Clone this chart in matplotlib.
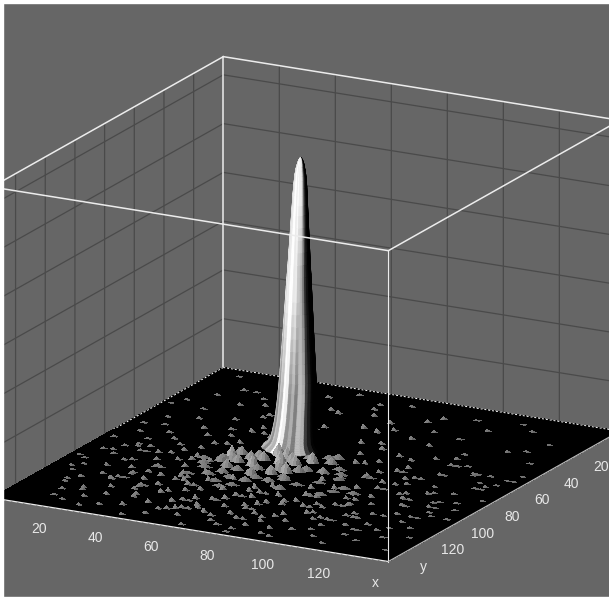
import matplotlib
matplotlib.use("Agg")
import matplotlib.pyplot as plt
from matplotlib.patches import Rectangle
from mpl_toolkits.mplot3d import proj3d
import numpy as np

x_max = 141.6
y_max = 156.0
z_max = 6.373
x_ticks = [20, 40, 60, 80, 100, 120, 140]
y_ticks = [20, 40, 60, 80, 100, 120, 140]
z_ticks = [1, 2, 3, 4, 5, 6]
x_labels = ["20", "40", "60", "80", "100", "120", "x"]
y_labels = ["20", "40", "60", "80", "100", "120", "y"]

# main peak (height, radius, centre shift)
peak_x = 60
peak_y = 63
spike_z = [0, .03, .06, .1, .14, .18, .24, .3, .37, .45, .55, .7, .85, 1.0, 1.2, 1.4, 1.6, 1.8, 2.05, 2.3, 2.55,
           2.8, 3.05, 3.3, 3.55, 3.8, 4.05, 4.3, 4.55, 4.8, 5.0, 5.2, 5.35, 5.5, 5.6, 5.7, 5.77, 5.82, 5.87, 5.9, 5.93, 5.94]
spike_r = [10, 9.4, 8.8, 8.2, 7.8, 7.5, 7.3, 7.1, 6.95, 6.8, 6.6, 6.4, 6.25, 6.1, 5.95, 5.8, 5.6, 5.4, 5.15, 4.9, 4.68,
           4.45, 4.22, 4.0, 3.75, 3.5, 3.28, 3.05, 2.83, 2.6, 2.42, 2.25, 2.08, 1.9, 1.7, 1.45, 1.22, 1.0, .75, .55, .25, .02]
spike_shift = [-1.5, -1.5, -1.5, -1.4, -1.35, -1.3, -1.2, -1.1, -1, -.9, -.75, -.6, -.45, -.3, -.15, 0, .05, .1, .15, .2, .25,
               .3, .35, .4, .45, .5, .55, .6, .65, .7, .75, .8, .85, .9, .9, .9, .95, 1, 1, 1, 1, 1]
# streaks running up the peak, one factor for every 10 degrees
spike_ridge = [1.0, 0.94, 1.04, 0.9, 1.0, 1.06, 0.92, 1.0, 0.88, 1.03, 1.08, 0.95, 1.02, 0.9, 1.0, 1.05, 0.94, 1.0,
               0.96, 1.04, 0.92, 1.0, 1.06, 0.89, 1.02, 0.97, 1.05, 0.92, 1.0, 1.03, 0.9, 1.0, 1.05, 0.94, 1.02, 0.97]
# grey across the peak from its left edge to its right edge, low / middle / high part
shade_pos = [-1.0, -0.6, -0.3, 0.0, 0.27, 0.46, 0.65, 0.85, 1.0]
shade_low = [0.70, 0.92, 0.72, 0.58, 0.75, 0.30, 0.03, 0.0, 0.0]
shade_mid = [0.90, 1.00, 0.97, 0.78, 0.55, 0.18, 0.02, 0.0, 0.0]
shade_high = [0.88, 1.00, 1.00, 0.98, 0.80, 0.38, 0.04, 0.0, 0.0]

# wider bumps round the foot of the peak
cluster_x = [47, 53, 46, 64, 68, 75, 56, 61, 70, 61, 76, 90, 99, 50, 57, 63, 72, 44, 52, 66, 59, 80, 84, 69, 54, 73, 48, 65, 78, 88, 58, 62, 43, 94,
             40, 51, 55, 67, 74, 83, 42, 49, 71, 79, 86, 92, 64, 57, 49, 55, 66, 70, 77, 45, 60, 73]
cluster_y = [83, 82, 88, 82, 80, 70, 102, 96, 89, 109, 105, 104, 99, 92, 88, 76, 76, 96, 98, 92, 74, 84, 94, 100, 107, 96, 78, 84, 74, 88, 112, 103, 104, 95,
             88, 86, 94, 88, 84, 79, 92, 102, 94, 99, 83, 100, 98, 80, 85, 79, 78, 73, 68, 85, 90, 86]
cluster_h = [26, 18, 12, 28, 20, 9, 8, 16, 22, 7, 9, 6, 7, 15, 22, 24, 22, 8, 11, 18, 26, 13, 6, 10, 7, 12, 16, 19, 14, 6, 6, 10, 5, 6,
             7, 17, 10, 15, 11, 8, 9, 9, 8, 6, 7, 5, 8, 18, 14, 16, 20, 15, 10, 10, 12, 13]

# small specks on the floor
speck_x = [31, 9, 52, 44, 72, 17, 97, 63, 118, 27, 84, 55, 105, 38, 74, 129, 12, 91, 66, 112,
           23, 48, 6, 79, 37, 101, 58, 121, 15, 88, 69, 133, 29, 96, 43, 110, 3, 82, 53, 126,
           19, 41, 9, 85, 33, 104, 25, 93, 117, 48, 76, 137, 12, 81, 36, 98, 128, 44, 110, 5,
           29, 90, 17, 101, 39, 123, 8, 84, 113, 22, 46, 132, 95, 14, 35, 106, 87, 26, 118, 42,
           4, 30, 94, 19, 127, 37, 109, 88, 11, 138, 24, 101, 43, 119, 83, 33, 132, 7, 97, 15,
           27, 113, 38, 91, 20, 125, 47, 105, 12, 135, 31, 84, 58, 118, 73, 3, 41, 99, 24, 109,
           16, 52, 129, 36, 90, 68, 9, 121, 45, 103, 27, 79, 137, 60, 114, 33, 86, 19, 97, 54,
           6, 40, 72, 126, 23, 107, 50, 84, 131, 14, 65, 95, 35, 118, 77, 44, 101, 28, 57, 89,
           11, 69, 123, 38, 112, 52, 81, 20, 93, 136, 62, 30, 105, 46, 74, 128, 15, 86, 56, 116,
           25, 70, 99, 40, 84, 122, 33, 60, 108, 50, 76, 135, 28, 92, 44, 114, 66, 20, 82, 54,
           62, 64, 78, 80, 48, 50, 91, 93, 35, 37, 58, 60, 104, 106, 72, 74, 25, 27, 116, 118,
           86, 88, 42, 44, 67, 69, 99, 101, 54, 56, 30, 32, 110, 112, 76, 78, 18, 20, 126, 128,
           108, 110, 122, 124, 103, 105, 130, 132, 115, 117, 94, 96, 135, 137, 126, 128, 100, 102, 112, 114,
           22, 34, 14, 28, 10, 37, 18, 42, 6, 31, 24, 46, 12, 35, 21, 52, 8, 27, 39, 16,
           68, 83, 97, 74, 88, 103, 61, 79, 94, 109, 66, 85, 100, 72, 92, 118, 82, 104, 125, 96,
           115, 128, 106, 121, 134, 112, 127, 102, 119, 131, 36, 51, 22, 47, 31, 62, 40, 56, 75, 87]
speck_y = [4, 7, 6, 13, 9, 19, 12, 17, 14, 24, 21, 26, 20, 15, 28, 24, 27, 29, 23, 9,
           33, 31, 36, 34, 38, 32, 41, 37, 42, 39, 36, 44, 47, 43, 45, 46, 41, 48, 49, 34,
           52, 51, 55, 53, 57, 54, 60, 57, 56, 59, 50, 58, 62, 61, 63, 59, 62, 56, 51, 64,
           66, 65, 69, 67, 71, 64, 72, 70, 68, 74, 76, 73, 75, 78, 73, 77, 69, 79, 80, 68,
           81, 83, 80, 85, 84, 87, 82, 86, 88, 86, 89, 84, 90, 88, 91, 93, 92, 94, 93, 86,
           96, 91, 98, 97, 100, 95, 101, 99, 97, 99, 102, 100, 103, 102, 104, 103, 105, 104, 107, 106,
           109, 108, 105, 110, 107, 108, 111, 111, 112, 110, 113, 112, 109, 114, 115, 116, 114, 117, 116, 118,
           114, 119, 117, 118, 120, 120, 121, 119, 122, 123, 122, 124, 124, 125, 123, 126, 126, 128, 127, 128,
           127, 130, 129, 131, 129, 133, 132, 133, 134, 131, 135, 136, 133, 137, 136, 135, 137, 138, 139, 138,
           141, 140, 141, 143, 144, 142, 146, 145, 144, 148, 148, 146, 150, 149, 152, 149, 153, 147, 153, 140,
           125, 125, 139, 139, 115, 115, 118, 118, 122, 122, 137, 137, 127, 127, 112, 112, 118, 118, 132, 132,
           107, 107, 108, 108, 118, 118, 112, 112, 130, 130, 103, 103, 121, 121, 128, 128, 90, 90, 112, 112,
           75, 75, 62, 62, 90, 90, 76, 76, 96, 96, 82, 82, 64, 64, 100, 100, 71, 71, 58, 58,
           74, 79, 84, 88, 93, 91, 101, 112, 105, 109, 121, 124, 130, 127, 135, 142, 118, 112, 134, 144,
           112, 116, 122, 126, 131, 109, 133, 120, 114, 117, 138, 134, 128, 145, 143, 115, 149, 138, 125, 151,
           68, 70, 84, 86, 70, 92, 94, 104, 103, 108, 41, 24, 19, 37, 30, 12, 56, 44, 38, 16]
speck_h = [3, 2, 3, 4, 3, 4, 2, 4, 3, 3, 5, 6, 3, 4, 5, 2, 3, 3, 5, 2,
           4, 5, 3, 5, 4, 3, 6, 3, 3, 5, 6, 2, 4, 5, 5, 3, 2, 5, 6, 3,
           4, 5, 3, 6, 4, 4, 5, 5, 3, 6, 6, 2, 3, 5, 4, 5, 3, 5, 4, 3,
           5, 5, 4, 5, 5, 3, 3, 6, 4, 4, 6, 3, 5, 3, 5, 5, 6, 4, 3, 6,
           3, 5, 6, 4, 3, 6, 4, 6, 3, 2, 5, 6, 7, 4, 7, 5, 3, 3, 6, 4,
           5, 4, 6, 7, 4, 3, 7, 5, 3, 3, 5, 7, 8, 4, 7, 2, 6, 5, 5, 4,
           4, 7, 3, 6, 6, 8, 3, 4, 7, 5, 5, 7, 3, 7, 4, 6, 6, 4, 5, 6,
           3, 6, 7, 3, 5, 4, 6, 7, 3, 4, 7, 6, 5, 4, 7, 6, 5, 5, 7, 6,
           3, 6, 3, 5, 4, 6, 6, 4, 5, 2, 6, 5, 4, 6, 6, 3, 4, 5, 6, 3,
           4, 5, 4, 5, 5, 3, 4, 5, 3, 4, 4, 2, 4, 4, 3, 3, 4, 3, 3, 5,
           6, 4, 5, 4, 7, 5, 6, 4, 5, 3, 5, 4, 4, 3, 6, 4, 4, 3, 3, 2,
           7, 5, 6, 4, 6, 4, 5, 3, 5, 3, 4, 3, 4, 3, 5, 3, 3, 2, 3, 2,
           4, 3, 3, 2, 5, 3, 3, 2, 5, 3, 6, 4, 2, 2, 4, 2, 5, 3, 4, 3,
           4, 5, 3, 5, 3, 6, 4, 5, 3, 5, 4, 6, 3, 5, 4, 5, 2, 4, 5, 3,
           7, 6, 5, 6, 5, 4, 6, 6, 5, 4, 7, 5, 4, 4, 5, 3, 4, 3, 2, 4,
           3, 2, 4, 3, 2, 4, 2, 5, 3, 2, 4, 5, 3, 4, 4, 3, 6, 6, 7, 5]

back_grey = "#666666"
line_white = "#ececec"
label_grey = "#e8e8e8"

plt.rcParams["font.family"] = ["Liberation Sans", "DejaVu Sans"]
plt.rcParams["grid.color"] = "#4a4a4a"
plt.rcParams["grid.linewidth"] = 0.9

fig = plt.figure(figsize=(6.09, 5.99), dpi=100, facecolor="white")
fig.add_artist(Rectangle((0, 0), 1, 1, transform=fig.transFigure, color=back_grey, zorder=-1))

ax = fig.add_axes([0, 0, 1, 1], projection="3d", proj_type="ortho", computed_zorder=False)
ax.patch.set_visible(False)
ax.view_init(elev=17.5, azim=-61.9)
ax.set_box_aspect((449.6, 491.5, 326))

# floor height map
step = 0.75
xs = np.arange(0, x_max + step, step)
xs[-1] = x_max
ys = np.arange(0, y_max + step, step)
ys[-1] = y_max
zz = np.zeros((len(ys), len(xs)))
for sx, sy, sh in zip(speck_x, speck_y, speck_h):
    i, j = round(sx / step), round(sy / step)
    zz[j, i] = max(zz[j, i], 1.3 * sh / 100)
    zz[j, i + 1] = max(zz[j, i + 1], 0.6 * sh / 100)
for cx, cy, ch in zip(cluster_x, cluster_y, cluster_h):
    i, j = round(cx / step), round(cy / step)
    # a bump covers the node and its neighbours, longer in x than in y
    zz[j, i - 2:i + 3] = np.maximum(zz[j, i - 2:i + 3], 0.45 * ch / 100)
    zz[j - 1:j + 2, i] = np.maximum(zz[j - 1:j + 2, i], 0.55 * ch / 100)
    zz[j, i - 1:i + 2] = np.maximum(zz[j, i - 1:i + 2], 0.7 * ch / 100)
    zz[j, i] = max(zz[j, i], ch / 100)

def floor_colors(z):
    # grey of each cell, light comes from the left of the picture
    dzx = np.gradient(z, step, axis=1)
    dzy = np.gradient(z, step, axis=0)
    lit = 0.883 * dzx - 0.468 * dzy
    top = np.maximum.reduce([z, np.roll(z, -1, 0), np.roll(z, -1, 1), np.roll(np.roll(z, -1, 0), -1, 1)])
    grey = 0.42 + np.minimum(top, 0.2) * 0.8 + lit * 1.3
    grey = np.where(top > 0, np.clip(grey, 0.08, 0.92), 0)
    return np.dstack([grey, grey, grey, np.ones_like(grey)])

xx, yy = np.meshgrid(xs, ys)
colors = floor_colors(zz)
ax.plot_surface(xx, yy, zz, facecolors=colors, rstride=1, cstride=1, shade=False, linewidth=0, antialiased=False, zorder=1)

# the peak
theta = np.deg2rad(np.arange(0, 370, 10))
rad = np.array(spike_r)
ridge = np.array(spike_ridge + spike_ridge[:1])
tt, rr = np.meshgrid(theta, rad)
heights = np.array(spike_z)[:, None]
rr = rr * (1 + (ridge[None, :] - 1) * 0.3 * (1 - heights / 6.0))
sx = peak_x + np.array(spike_shift)[:, None] + rr * np.cos(tt)
sy = peak_y + rr * np.sin(tt)
sz = np.repeat(heights, len(theta), axis=1)

pos = (2.8 * np.cos(tt + np.deg2rad(5)) - 1.484 * np.sin(tt + np.deg2rad(5))) / 3.17
low = np.interp(pos, shade_pos, shade_low)
mid = np.interp(pos, shade_pos, shade_mid)
high = np.interp(pos, shade_pos, shade_high)
w_low = np.clip((3.0 - sz) / 2.0, 0, 1)
w_high = np.clip((sz - 3.5) / 1.5, 0, 1)
grey = (w_low * low + (1 - w_low) * mid) * (1 - w_high) + w_high * high
# streaks get stronger towards the foot
grey = np.clip(grey * (1 + (ridge[None, :] - 1) * (0.6 + 1.6 * w_low)), 0, 1)
ax.plot_surface(sx, sy, sz, facecolors=np.dstack([grey, grey, grey, np.ones_like(grey)]), rstride=1, cstride=1,
                shade=False, linewidth=0.5, antialiased=True, zorder=2)

# part of the floor in front of the peak goes over its foot
j0 = round(74 / step)
ax.plot_surface(xx[j0:, :], yy[j0:, :], zz[j0:, :], facecolors=colors[j0:, :], rstride=1, cstride=1, shade=False,
                linewidth=0, antialiased=False, zorder=3)

# white frame of the box
top_edges = [((0, x_max), (0, 0)), ((0, 0), (0, y_max)), ((x_max, x_max), (0, y_max)), ((0, x_max), (y_max, y_max))]
for ex, ey in top_edges:
    ax.plot(ex, ey, (z_max, z_max), color=line_white, lw=1.1, zorder=4)
ax.plot((0, 0), (0, 0), (0, z_max), color=line_white, lw=1.1, zorder=0.5)
ax.plot((x_max, x_max), (y_max, y_max), (0, z_max), color=line_white, lw=0.8, zorder=4)
ax.plot((0, x_max), (y_max, y_max), (0, 0), color=line_white, lw=0.9, zorder=4)
ax.plot((x_max, x_max), (0, y_max), (0, 0), color="#b8b8b8", lw=0.9, zorder=4)
ax.plot((0, x_max), (0, 0), (0, 0), color="white", lw=0.7, ls=(0, (2, 2)), zorder=1.5)
ax.plot((0, 0), (0, y_max), (0, 0), color="white", lw=0.7, ls=(0, (2, 2)), zorder=1.5)

ax.set_xlim(0, x_max)
ax.set_ylim(y_max, 0)
ax.set_zlim(0, z_max)
ax.set_xticks(x_ticks)
ax.set_yticks(y_ticks)
ax.set_zticks(z_ticks)
ax.tick_params(axis="both", colors=(0, 0, 0, 0), length=0)
ax.tick_params(axis="z", colors=(0, 0, 0, 0), length=0)
for axis in (ax.xaxis, ax.yaxis, ax.zaxis):
    axis.set_pane_color((0, 0, 0, 0))
    axis.pane.set_edgecolor("none")
    axis.line.set_color("none")
    axis.set_ticklabels([])

# fit the box to the picture: left/right corners and back corner of the floor
def floor_px(x, y):
    u, v, _ = proj3d.proj_transform(x, y, 0, ax.get_proj())
    return ax.transData.transform((u, v))

W_PX, H_PX = 609, 599
side = 600.0
left, bottom = 0.0, 0.0
for _ in range(3):
    ax.set_position([left / W_PX, bottom / H_PX, side / W_PX, side / H_PX])
    ax.apply_aspect()
    p_l = floor_px(0, y_max)
    p_r = floor_px(x_max, 0)
    side = side * (621 + 7) / (p_r[0] - p_l[0])
    ax.set_position([left / W_PX, bottom / H_PX, side / W_PX, side / H_PX])
    ax.apply_aspect()
    p_b = floor_px(0, 0)
    left += 223.3 - p_b[0]
    bottom += (H_PX - 367.5) - p_b[1]
ax.set_position([left / W_PX, bottom / H_PX, side / W_PX, side / H_PX])
ax.apply_aspect()

# tick labels sit just off the two front edges of the floor
for tick, label in zip(x_ticks, x_labels):
    px, py = floor_px(tick + 8.4, y_max + 21.8)
    fig.text(px / W_PX, py / H_PX, label, color=label_grey, fontsize=10, ha="center", va="center")
for tick, label in zip(y_ticks, y_labels):
    px, py = floor_px(x_max + 12.4, tick + 16)
    fig.text(px / W_PX, py / H_PX, label, color=label_grey, fontsize=10, ha="center", va="center")

# white strips left by the crop of the original
fig.add_artist(Rectangle((0, 0), 3 / W_PX, 1, transform=fig.transFigure, color="white", zorder=10))
fig.add_artist(Rectangle((0, 596.5 / H_PX), 1, 3 / H_PX, transform=fig.transFigure, color="white", zorder=10))
fig.add_artist(Rectangle((0, 0), 1, 2.5 / H_PX, transform=fig.transFigure, color="white", zorder=10))

fig.savefig("out.png", dpi=100)
